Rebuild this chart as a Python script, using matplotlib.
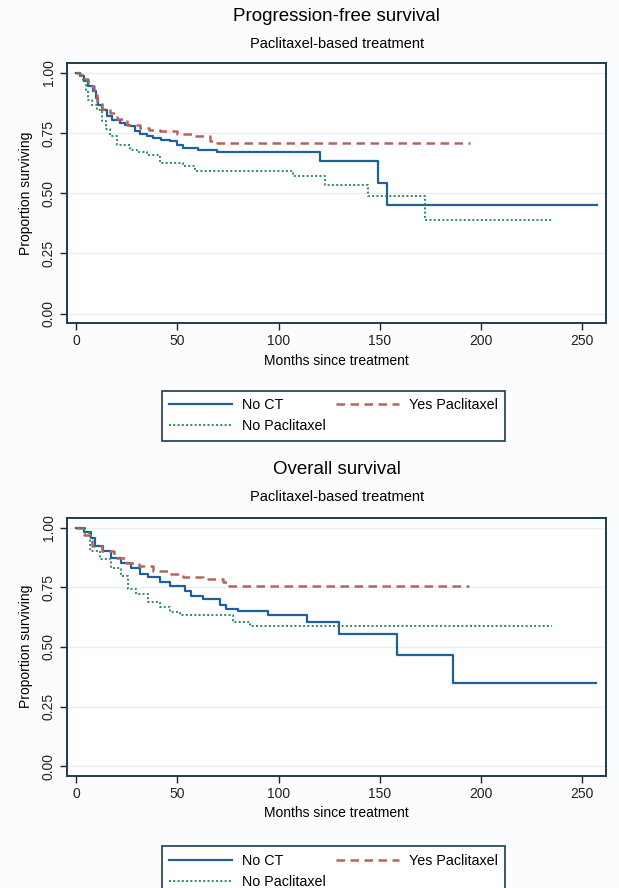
import matplotlib
matplotlib.use('Agg')
import matplotlib.pyplot as plt
import numpy as np

plt.rcParams['font.family'] = ['Liberation Sans', 'DejaVu Sans']

# Kaplan-Meier step values (months, proportion surviving)
pfs_noct_t = [0, 2, 4, 6, 8.6, 10, 11, 13, 15.1, 18, 21.7, 24, 26.6, 29, 31.6, 35, 38.2, 42,
              46.4, 50, 53, 60, 69.4, 120.4, 148.9, 153.8, 257.3]
pfs_noct_s = [1.0, 0.985, 0.965, 0.945, 0.924, 0.895, 0.868, 0.845, 0.82, 0.805, 0.793, 0.785,
              0.778, 0.76, 0.744, 0.737, 0.73, 0.723, 0.716, 0.70, 0.688, 0.68, 0.672, 0.633,
              0.543, 0.453, 0.453]
pfs_yes_t = [0, 2, 4, 6, 7.7, 9, 10.2, 13, 16.8, 20, 25, 31.6, 36, 41.5, 49.7, 57.9, 66.1, 69.4, 194.8]
pfs_yes_s = [1.0, 0.99, 0.975, 0.96, 0.945, 0.91, 0.875, 0.85, 0.834, 0.81, 0.785, 0.771, 0.764,
             0.757, 0.744, 0.737, 0.716, 0.709, 0.709]
pfs_nopac_t = [0, 2, 3.6, 5, 6.1, 8, 10.2, 12.7, 15, 16.8, 20.1, 26.6, 30, 34.9, 41.5, 53, 58.7,
               107.3, 122.9, 144.3, 172.3, 234.8]
pfs_nopac_s = [1.0, 0.99, 0.972, 0.93, 0.889, 0.868, 0.847, 0.80, 0.765, 0.737, 0.702, 0.681,
               0.67, 0.66, 0.626, 0.612, 0.594, 0.570, 0.533, 0.487, 0.39, 0.39]

os_noct_t = [0, 4, 7.5, 9.2, 13.3, 17.4, 22.4, 27.3, 31.4, 35.5, 41.3, 46.2, 53.6, 57, 62.8, 71,
             74.3, 80, 95, 114, 130, 158.5, 186.2, 256.7]
os_noct_s = [1.0, 0.98, 0.958, 0.924, 0.903, 0.875, 0.854, 0.833, 0.806, 0.792, 0.771, 0.757,
             0.736, 0.715, 0.701, 0.674, 0.660, 0.650, 0.632, 0.604, 0.556, 0.465, 0.347, 0.347]
os_yes_t = [0, 4, 8, 13, 18.8, 24.5, 31.1, 37.8, 46, 52.6, 62.5, 72.4, 75.7, 194]
os_yes_s = [1.0, 0.97, 0.924, 0.903, 0.875, 0.854, 0.840, 0.819, 0.806, 0.792, 0.785, 0.771,
            0.757, 0.757]
os_nopac_t = [0, 4.2, 6.7, 11.6, 17.4, 22.4, 25.6, 29.7, 35.5, 41.3, 46.2, 51.2, 77.6, 85.9, 235]
os_nopac_s = [1.0, 0.979, 0.903, 0.868, 0.833, 0.799, 0.743, 0.722, 0.688, 0.667, 0.646, 0.632,
              0.604, 0.586, 0.586]

titles = ['Progression-free survival', 'Overall survival']
subtitle = 'Paclitaxel-based treatment'
labels = ['No CT', 'Yes Paclitaxel', 'No Paclitaxel']
xticks = [0, 50, 100, 150, 200, 250]
yticks = [0, 0.25, 0.5, 0.75, 1.0]

c_blue = '#1f5f9c'
c_red = '#b5655f'
c_green = '#2e8a5c'
edge = '#1d3c4c'

fig = plt.figure(figsize=(6.19, 8.88), dpi=100, facecolor='#fafcfd')


def km_panel(ax, series):
    styles = [dict(color=c_blue, lw=1.6, ls='-'),
              dict(color=c_red, lw=1.8, dashes=(3.4, 2.2)),
              dict(color=c_green, lw=1.4, dashes=(1, 1.2))]
    handles = []
    for (t, s), lab, st in zip(series, labels, styles):
        h, = ax.step(t, s, where='post', label=lab, **st)
        handles.append(h)
    ax.set_xlim(-4.6, 262)
    ax.set_ylim(-0.04, 1.042)
    ax.set_xticks(xticks)
    ax.set_yticks(yticks)
    ax.set_yticklabels(['0.00', '0.25', '0.50', '0.75', '1.00'], rotation=90, va='center')
    ax.tick_params(direction='out', length=5, width=1, colors='#222222', labelsize=10, pad=3)
    for v in yticks:
        ax.axhline(v, color='#e6eef5', lw=1, zorder=0)
    for sp in ax.spines.values():
        sp.set_color(edge)
        sp.set_linewidth(1.4)
    ax.set_facecolor('white')
    ax.set_xlabel('Months since treatment', fontsize=10, labelpad=4)
    ax.set_ylabel('Proportion surviving', fontsize=10, labelpad=6)
    return handles


ax1 = fig.add_axes([0.1078, 0.6359, 0.872, 0.2935])
ax2 = fig.add_axes([0.1078, 0.1265, 0.872, 0.2905])

h1 = km_panel(ax1, [(pfs_noct_t, pfs_noct_s), (pfs_yes_t, pfs_yes_s), (pfs_nopac_t, pfs_nopac_s)])
h2 = km_panel(ax2, [(os_noct_t, os_noct_s), (os_yes_t, os_yes_s), (os_nopac_t, os_nopac_s)])

xc = 0.544
fig.text(xc, 0.9812, titles[0], ha='center', va='center', fontsize=13.5)
fig.text(xc, 0.9501, subtitle, ha='center', va='center', fontsize=10.5)
fig.text(xc, 0.4715, titles[1], ha='center', va='center', fontsize=13.5)
fig.text(xc, 0.4407, subtitle, ha='center', va='center', fontsize=10.5)

for hs, y0, hgt in [(h1, 0.5064, 0.0612), (h2, 0.0, 0.0549)]:
    order = [hs[0], hs[2], hs[1]]
    leg = fig.legend(order, [h.get_label() for h in order], ncol=2, mode='expand',
                     loc='upper left', bbox_to_anchor=(0.25, y0, 0.577, hgt),
                     fontsize=10.3, handlelength=4.4, handletextpad=0.7, labelspacing=0.5,
                     borderpad=0.5, fancybox=False, framealpha=1)
    leg.get_frame().set_edgecolor(edge)
    leg.get_frame().set_linewidth(1.2)

fig.savefig('out.png', dpi=100, facecolor=fig.get_facecolor())
